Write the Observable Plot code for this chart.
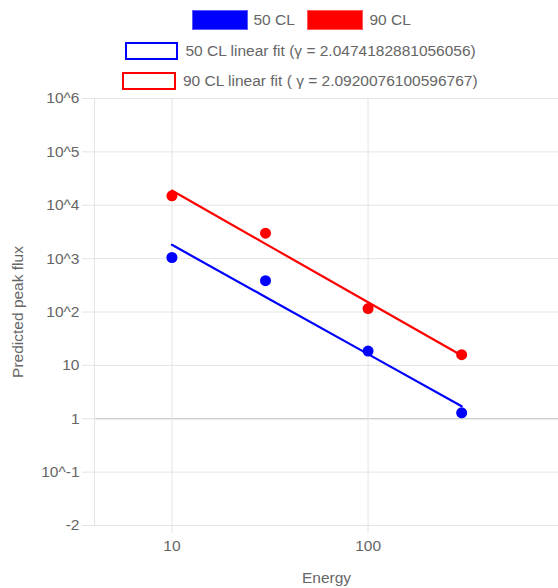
<!DOCTYPE html>
<html>
<head>
<meta charset="utf-8">
<script src="https://cdn.jsdelivr.net/npm/d3@7"></script>
<script src="https://cdn.jsdelivr.net/npm/@observablehq/plot@0.6"></script>
<style>
  html, body { margin: 0; padding: 0; background: #fff; }
  body { width: 558px; height: 588px; overflow: hidden; font-family: Arial, "Liberation Sans", sans-serif; color: #666; }
  #legend { position: relative; height: 90px; width: 558px; }
  .box { position: absolute; box-sizing: border-box; }
  .lab { position: absolute; font-size: 15.5px; line-height: 18px; white-space: nowrap; color: #666; }
  #chart svg { display: block; }
</style>
</head>
<body>
<div id="legend"></div>
<div id="chart"></div>
<script>
// Energy bins and the predicted peak flux at 50% and 90% confidence
const energy = [10, 30, 100, 300];
const flux50 = [1050, 386, 18.5, 1.29];
const flux90 = [15000, 3000, 116, 15.9];

// Power-law indices of the fits (flux ~ E^-gamma)
const gamma50 = 2.0474182881056056;
const gamma90 = 2.0920076100596767;

const seriesNames = ["50 CL", "90 CL"];
const fitNames = [
  "50 CL linear fit (\u03b3 = " + gamma50 + ")",
  "90 CL linear fit ( \u03b3 = " + gamma90 + ")"
];

// Axis ticks and their labels
const yTicks = [1e-2, 1e-1, 1, 10, 100, 1e3, 1e4, 1e5, 1e6];
const yTickLabels = ["-2", "10^-1", "1", "10", "10^2", "10^3", "10^4", "10^5", "10^6"];
const xTicks = [10, 100];
const xTickLabels = ["10", "100"];

const xDomain = [4.03, 935];
const yDomain = [1e-2, 1e6];

// Fit line in log-log space with the given slope; intercept by least squares
function powerFit(xs, ys, gamma) {
  const lx = d3.mean(xs, Math.log10);
  const ly = d3.mean(ys, Math.log10);
  const b = ly + gamma * lx;
  return x => Math.pow(10, b - gamma * Math.log10(x));
}
const fit50 = powerFit(energy, flux50, gamma50);
const fit90 = powerFit(energy, flux90, gamma90);

// Legend
const legend = document.getElementById("legend");
function addBox(left, top, w, h, fill, border, bw) {
  const el = document.createElement("div");
  el.className = "box";
  Object.assign(el.style, {left: left + "px", top: top + "px", width: w + "px", height: h + "px",
    background: fill, border: bw + "px solid " + border});
  legend.appendChild(el);
}
function addLabel(left, cy, text) {
  const el = document.createElement("div");
  el.className = "lab";
  el.textContent = text;
  Object.assign(el.style, {left: left + "px", top: (cy - 9) + "px"});
  legend.appendChild(el);
}
addBox(192, 9.5, 56, 20.5, "#0000ff", "#5a5aff", 1);
addLabel(253.5, 19.5, seriesNames[0]);
addBox(307, 9.5, 56, 20.5, "#ff0000", "#ff5a5a", 1);
addLabel(369.5, 19.5, seriesNames[1]);
addBox(124.5, 42, 53.5, 17.5, "#fff", "#0000ff", 2);
addLabel(185.5, 50.5, fitNames[0]);
addBox(122, 72, 54, 17.5, "#fff", "#ff0000", 2);
addLabel(183, 80.5, fitNames[1]);

const grid = "#e4e4e4";

const chart = Plot.plot({
  width: 558,
  height: 498,
  marginTop: 8,
  marginBottom: 63,
  marginLeft: 94,
  marginRight: 0,
  style: {fontFamily: "Arial, 'Liberation Sans', sans-serif", fontSize: "15.5px", color: "#666", background: "#fff"},
  x: {type: "log", domain: xDomain},
  y: {type: "log", domain: yDomain},
  marks: [
    Plot.gridY(yTicks, {stroke: grid, strokeOpacity: 1}),
    Plot.ruleY([1], {stroke: "#c4c4c4"}),
    Plot.gridX(xTicks, {stroke: grid, strokeOpacity: 1}),
    Plot.ruleX([xDomain[0]], {stroke: grid}),
    Plot.axisY(yTicks, {
      tickSize: 12, tickPadding: 3, stroke: grid, fill: "#666",
      tickFormat: d => yTickLabels[yTicks.indexOf(d)], label: null
    }),
    Plot.axisX(xTicks, {
      tickSize: 8, tickPadding: 6, stroke: grid, fill: "#666",
      tickFormat: d => xTickLabels[xTicks.indexOf(d)], label: null
    }),
    Plot.text(["Predicted peak flux"], {frameAnchor: "left", dx: -76, rotate: -90, textAnchor: "middle", fill: "#666", fontSize: 15.5}),
    Plot.text(["Energy"], {frameAnchor: "bottom", dy: 57, textAnchor: "middle", fill: "#666", fontSize: 15.5}),
    Plot.line(energy, {x: d => d, y: d => fit50(d), stroke: "#0000ff", strokeWidth: 2.2}),
    Plot.line(energy, {x: d => d, y: d => fit90(d), stroke: "#ff0000", strokeWidth: 2.2}),
    Plot.dot(energy, {x: d => d, y: (d, i) => flux50[i], r: 5.5, fill: "#0000ff", stroke: "none"}),
    Plot.dot(energy, {x: d => d, y: (d, i) => flux90[i], r: 5.5, fill: "#ff0000", stroke: "none"})
  ]
});
document.getElementById("chart").appendChild(chart);
</script>
</body>
</html>
